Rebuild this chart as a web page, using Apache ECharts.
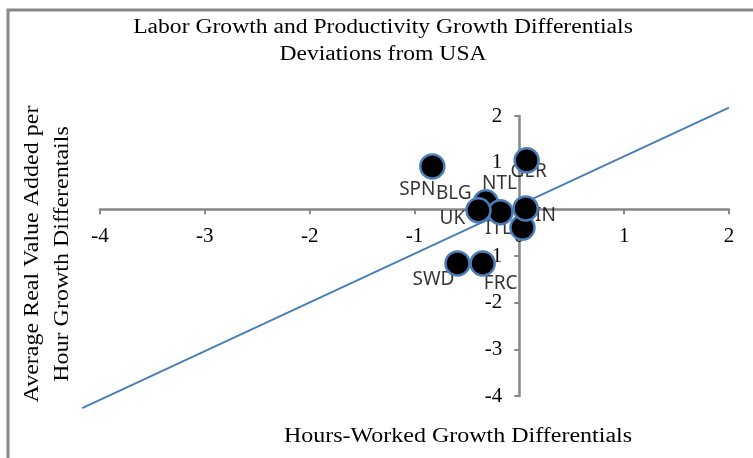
<!DOCTYPE html>
<html>
<head>
<meta charset="utf-8">
<script src="https://cdn.jsdelivr.net/npm/echarts@6/dist/echarts.min.js"></script>
<style>
  html, body { margin: 0; padding: 0; background: #fff; }
  #chart { width: 753px; height: 458px; }
</style>
</head>
<body>
<div id="chart"></div>
<script>
// values
const countries = ['SPN', 'GER', 'BLG', 'NTL', 'UK', 'ITL', 'FIN', 'SWD', 'FRC']
const hoursDiff = [-0.83, 0.07, -0.32, -0.18, -0.39, 0.03, 0.06, -0.59, -0.35]
const productivityDiff = [0.92, 1.05, 0.15, -0.06, -0.02, -0.39, 0.02, -1.16, -1.16]
const fitLine = [[-4.17, -4.26], [2.0, 2.18]]
const axisTicks = [-4, -3, -2, -1, 0, 1, 2]

// where each data label sits relative to its marker (px)
const labelOffsets = {
  SPN: [-15, 23], GER: [2, 11], BLG: [-32, -9], NTL: [-1, -29], UK: [-26, 8],
  ITL: [-24, 1], FIN: [15, 7], SWD: [-24, 16], FRC: [18, 20]
}

const serif = '"Liberation Serif", "DejaVu Serif", serif'
const axisColor = '#878787'
const grid = { left: 100, right: 24, top: 116, bottom: 62 }
const plotW = 753 - grid.left - grid.right
const plotH = 458 - grid.top - grid.bottom
const axisMin = axisTicks[0]
const axisMax = axisTicks[axisTicks.length - 1]
// axes cross at zero, so shift them into the plot
const zeroFrac = (0 - axisMin) / (axisMax - axisMin)

const points = countries.map((name, i) => ({ name, value: [hoursDiff[i], productivityDiff[i]] }))

const chart = echarts.init(document.getElementById('chart'))

function valueAxis(offset) {
  return {
    type: 'value',
    min: axisMin,
    max: axisMax,
    interval: 1,
    offset: offset,
    splitLine: { show: false },
    axisLine: { onZero: false, lineStyle: { color: axisColor, width: 2.5 } },
    axisTick: { show: true, length: 5, lineStyle: { color: axisColor, width: 2 } },
    axisLabel: { color: '#000', fontFamily: serif, fontSize: 21, margin: 17 }
  }
}

chart.setOption({
  animation: false,
  grid: grid,
  xAxis: valueAxis(-zeroFrac * plotH),
  yAxis: valueAxis(-zeroFrac * plotW),
  graphic: [
    {
      type: 'rect',
      shape: { x: 8, y: 10, width: 800, height: 500 },
      style: { fill: 'none', stroke: '#888', lineWidth: 3 },
      silent: true
    },
    {
      type: 'text', x: 383, y: 41, scaleX: 1.18,
      style: {
        text: 'Labor Growth and Productivity Growth Differentials\nDeviations from USA',
        align: 'center', verticalAlign: 'middle', lineHeight: 27,
        font: '20px ' + serif, fill: '#000'
      }
    },
    {
      type: 'text', x: 48, y: 254, rotation: Math.PI / 2, scaleX: 1.2,
      style: {
        text: 'Average Real Value Added per\nHour Growth Differentails',
        align: 'center', verticalAlign: 'middle', lineHeight: 30,
        font: '20px ' + serif, fill: '#000'
      }
    },
    {
      type: 'text', x: 458, y: 437, scaleX: 1.2,
      style: {
        text: 'Hours-Worked Growth Differentials',
        align: 'center', verticalAlign: 'middle',
        font: '20px ' + serif, fill: '#000'
      }
    }
  ],
  series: [
    {
      // fitted line runs a little past the axis ends, so it is drawn unclipped
      type: 'custom',
      data: [fitLine[0].concat(fitLine[1])],
      z: 2,
      renderItem: (params, api) => {
        const a = api.coord([api.value(0), api.value(1)])
        const b = api.coord([api.value(2), api.value(3)])
        return {
          type: 'line',
          shape: { x1: a[0], y1: a[1], x2: b[0], y2: b[1] },
          style: { stroke: '#4a7ebb', lineWidth: 2 }
        }
      }
    },
    {
      // labels only, kept under the markers
      type: 'scatter',
      data: points,
      symbolSize: 0,
      itemStyle: { color: 'transparent' },
      z: 1,
      label: {
        show: true,
        position: 'inside',
        formatter: (p) => p.name,
        color: '#000',
        fontFamily: '"Noto Sans", sans-serif',
        fontSize: 19
      },
      labelLayout: (p) => {
        const off = labelOffsets[countries[p.dataIndex]]
        return { dx: off[0], dy: off[1] }
      }
    },
    {
      type: 'scatter',
      data: points,
      symbolSize: 24,
      z: 5,
      itemStyle: { color: '#000', opacity: 1, borderColor: '#4a7ebb', borderWidth: 2.5 }
    }
  ]
})
</script>
</body>
</html>
